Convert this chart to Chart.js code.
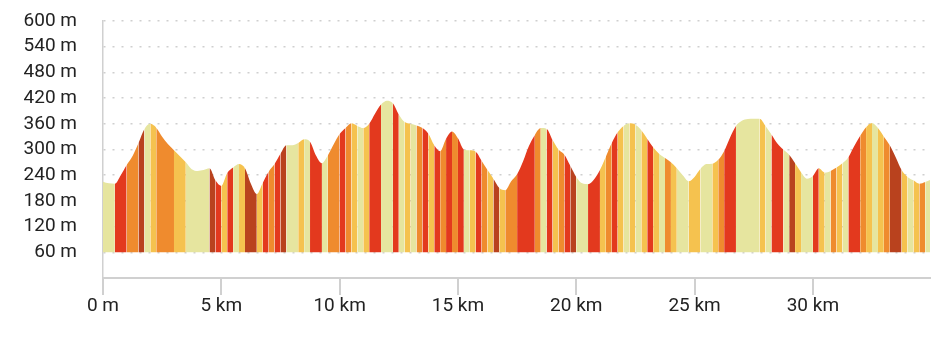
<!DOCTYPE html>
<html lang="en">
<head>
<meta charset="UTF-8">
<title>Elevation profile</title>
<script src="https://cdn.jsdelivr.net/npm/chart.js"></script>
<style>
  html, body { margin: 0; padding: 0; background: #fff; }
  .chart-container { width: 946px; height: 341px; }
</style>
</head>
<body>
<div class="chart-container"><canvas id="profile" width="946" height="341"></canvas></div>
<script>
// Distance along the route, km
const distances = [
  0, 0.25, 0.5, 0.75, 1, 1.25, 1.5, 1.75, 2, 2.25, 2.5, 2.75, 3, 3.25, 3.5, 3.75, 4, 4.25, 4.5, 4.75,
  5, 5.25, 5.5, 5.75, 6, 6.25, 6.5, 6.75, 7, 7.25, 7.5, 7.75, 8, 8.25, 8.5, 8.75, 9, 9.25, 9.5, 9.75,
  10, 10.25, 10.5, 10.75, 11, 11.25, 11.5, 11.75, 12, 12.25, 12.5, 12.75, 13, 13.25, 13.5, 13.75, 14, 14.25, 14.5, 14.75,
  15, 15.25, 15.5, 15.75, 16, 16.25, 16.5, 16.75, 17, 17.25, 17.5, 17.75, 18, 18.25, 18.5, 18.75, 19, 19.25, 19.5, 19.75,
  20, 20.25, 20.5, 20.75, 21, 21.25, 21.5, 21.75, 22, 22.25, 22.5, 22.75, 23, 23.25, 23.5, 23.75, 24, 24.25, 24.5, 24.75,
  25, 25.25, 25.5, 25.75, 26, 26.25, 26.5, 26.75, 27, 27.25, 27.5, 27.75, 28, 28.25, 28.5, 28.75, 29, 29.25, 29.5, 29.75,
  30, 30.25, 30.5, 30.75, 31, 31.25, 31.5, 31.75, 32, 32.25, 32.5, 32.75, 33, 33.25, 33.5, 33.75, 34, 34.25, 34.5, 34.75,
  34.95
];

// Elevation at each distance, m
const elevations = [
  225, 221, 220, 240, 264, 285, 315, 348, 360, 351, 330, 312, 298, 284, 270, 254, 250, 252, 256, 228,
  215, 245, 258, 266, 256, 220, 196, 222, 248, 266, 290, 310, 310, 315, 324, 318, 286, 268, 286, 312,
  336, 350, 361, 355, 350, 360, 384, 405, 414, 408, 382, 364, 360, 356, 350, 337, 310, 296, 325, 342,
  326, 300, 298, 295, 274, 252, 232, 210, 205, 226, 242, 272, 308, 334, 350, 348, 322, 300, 288, 262,
  236, 221, 219, 230, 252, 283, 315, 340, 355, 361, 358, 345, 325, 305, 290, 280, 270, 256, 240, 226,
  236, 255, 266, 267, 276, 296, 328, 355, 367, 371, 372, 372, 355, 335, 314, 300, 288, 268, 247, 232,
  238, 256, 246, 250, 258, 268, 282, 308, 332, 352, 362, 350, 330, 310, 282, 252, 236, 228, 220, 224,
  229
];

// Gradient class of each stretch between two samples (0 = flat ... 4 = steepest)
const grades = [
  0, 0, 3, 3, 2, 2, 4, 0, 1, 2, 2, 2, 1, 1, 0, 0, 0, 0, 4, 3,
  1, 3, 0, 1, 4, 4, 1, 3, 2, 3, 4, 0, 0, 1, 0, 3, 3, 0, 2, 2,
  3, 2, 1, 0, 1, 3, 3, 0, 0, 3, 0, 1, 0, 2, 3, 1, 3, 2, 3, 2,
  3, 0, 1, 3, 2, 1, 4, 1, 2, 2, 3, 3, 3, 2, 0, 3, 1, 2, 3, 4,
  0, 0, 3, 3, 1, 2, 3, 1, 0, 1, 0, 1, 3, 1, 0, 2, 1, 0, 0, 1,
  1, 0, 0, 1, 2, 3, 3, 0, 0, 0, 0, 1, 0, 3, 3, 0, 4, 1, 0, 0,
  3, 1, 0, 2, 1, 0, 3, 3, 2, 1, 0, 1, 2, 4, 4, 1, 0, 1, 2, 0
];

const gradeColors = ['#e6e59f', '#f5c24f', '#ef8b2e', '#e3391e', '#b9421e'];

const baseElevation = 60;
const elevationStep = 60;
const elevationMax = 600;
const distanceStep = 5;

const axisGrey = '#d0d0d0';
const labelFont = { family: 'Roboto', size: 19 };

new Chart(document.getElementById('profile'), {
  type: 'line',
  data: {
    datasets: [{
      data: distances.map((d, i) => ({ x: d, y: elevations[i] })),
      borderColor: 'rgba(0,0,0,0)',
      borderWidth: 0,
      pointRadius: 0,
      backgroundColor: gradeColors[0],
      fill: { value: baseElevation },
      cubicInterpolationMode: 'monotone',
      segment: {
        backgroundColor: ctx => gradeColors[grades[ctx.p0DataIndex]]
      }
    }]
  },
  options: {
    responsive: false,
    animation: false,
    devicePixelRatio: 1,
    layout: { padding: { top: 21, right: 16, left: 0, bottom: 0 } },
    plugins: {
      legend: { display: false },
      tooltip: { enabled: false }
    },
    scales: {
      x: {
        type: 'linear',
        min: 0,
        max: distances[distances.length - 1],
        afterFit: scale => { scale.height = 63; },
        border: { color: axisGrey, width: 2 },
        grid: {
          drawOnChartArea: false,
          drawTicks: true,
          tickLength: 17,
          color: axisGrey,
          lineWidth: 2
        },
        ticks: {
          stepSize: distanceStep,
          includeBounds: false,
          maxRotation: 0,
          padding: 0,
          color: '#222',
          font: labelFont,
          callback: v => v === 0 ? '0 m' : v + ' km'
        }
      },
      y: {
        min: 0,
        max: elevationMax,
        afterFit: scale => { scale.width = 103; },
        // dash applies to the horizontal grid lines, the axis line stays solid
        border: { color: axisGrey, width: 1.5, dash: [2, 7] },
        grid: {
          color: '#cfcfcf',
          lineWidth: 1.5,
          // invisible tick marks keep the labels away from the axis
          drawTicks: true,
          tickLength: 26,
          tickColor: 'rgba(0,0,0,0)'
        },
        ticks: {
          stepSize: elevationStep,
          autoSkip: false,
          padding: 0,
          color: '#222',
          font: labelFont,
          callback: v => v === 0 ? '' : v + ' m'
        }
      }
    }
  }
});
</script>
</body>
</html>
